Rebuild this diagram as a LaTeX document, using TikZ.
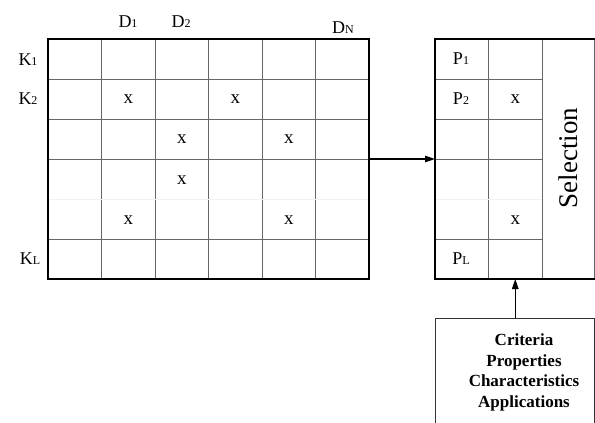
\documentclass[tikz,border=0pt]{standalone}
\usepackage{fontspec}
\setmainfont{Liberation Serif}
\usetikzlibrary{arrows.meta}

% kleine Indizes direkt auf der Grundlinie
\newcommand{\idx}[1]{{\fontsize{12}{12}\selectfont #1}}

\begin{document}
\begin{tikzpicture}[
x=1pt,
y=-1pt,
grid/.style={black!60, line width=0.8pt},
faint/.style={black!5, line width=0.8pt},
frame/.style={black, line width=1.3pt},
lbl/.style={font=\fontsize{18}{18}\selectfont, inner sep=0pt},
cross/.style={font=\fontsize{19}{19}\selectfont, inner sep=0pt},
conn/.style={black, line width=1.2pt, -{Triangle[length=10pt,width=6.5pt]}},
]

	\useasboundingbox (0,0) rectangle (595,423);

	%%%%%%%%%%%%%%%%%%%%%%%%%%%%
	%Matrix links (K x D)
	%%%%%%%%%%%%%%%%%%%%%%%%%%%%

	\foreach \i in {1,...,5}
		\draw [grid] ({48+53.5*\i},39) -- ({48+53.5*\i},279);
	\foreach \y in {79,119,159,239}
		\draw [grid] (48,\y) -- (369,\y);
	\draw [faint] (48,199) -- (369,199);
	\draw [frame] (48,39) rectangle (369,279);

	\node [lbl] (d1) at (128,22) {D\idx{1}};
	\node [lbl] (d2) at (181,22) {D\idx{2}};
	\node [lbl] (dn) at (343,28) {D\idx{N}};
	\node [lbl] (k1) at (28,60) {K\idx{1}};
	\node [lbl] (k2) at (28,99) {K\idx{2}};
	\node [lbl] (kl) at (30,259) {K\idx{L}};

	\node [cross] (x22) at (128.25,99) {x};
	\node [cross] (x24) at (235.25,99) {x};
	\node [cross] (x33) at (181.75,139) {x};
	\node [cross] (x35) at (288.75,139) {x};
	\node [cross] (x43) at (181.75,180) {x};
	\node [cross] (x52) at (128.25,220) {x};
	\node [cross] (x55) at (288.75,220) {x};

	%%%%%%%%%%%%%%%%%%%%%%%%%%%%
	%Auswahl rechts
	%%%%%%%%%%%%%%%%%%%%%%%%%%%%

	\draw [grid] (488.5,39) -- (488.5,279);
	\draw [grid] (542,39) -- (542,279);
	\foreach \y in {79,119,159,239}
		\draw [grid] (435,\y) -- (542,\y);
	\draw [faint] (435,199) -- (542,199);
	\draw [grid] (594.5,39) -- (594.5,279);
	\draw [frame] (594.5,39) -- (435,39) -- (435,279) -- (594.5,279);

	\node [lbl] (p1) at (461,59) {P\idx{1}};
	\node [lbl] (p2) at (461,99) {P\idx{2}};
	\node [lbl] (pl) at (461,259) {P\idx{L}};
	\node [cross] (s2) at (515.25,99) {x};
	\node [cross] (s5) at (515.25,220) {x};

	\node [rotate=90, inner sep=0pt, font=\fontsize{27}{27}\selectfont] (sel) at (568,158) {Selection};

	%%%%%%%%%%%%%%%%%%%%%%%%%%%%
	%Kriterien unten
	%%%%%%%%%%%%%%%%%%%%%%%%%%%%

	\draw [black!80, line width=1pt] (435,430) -- (435,318) -- (594.5,318) -- (594.5,430);
	\node [align=center, inner sep=0pt, font=\fontsize{17}{20.5}\selectfont\bfseries] (crit) at (524,372.5)
		{Criteria\\Properties\\Characteristics\\Applications};

	%Pfeile
	\coordinate (mout) at (369,159);
	\coordinate (sin) at (435,159);
	\coordinate (ctop) at (515.25,318);
	\coordinate (sbot) at (515.25,279);
	\draw [conn] (mout) -- (sin);
	\draw [conn] (ctop) -- (sbot);

\end{tikzpicture}
\end{document}
